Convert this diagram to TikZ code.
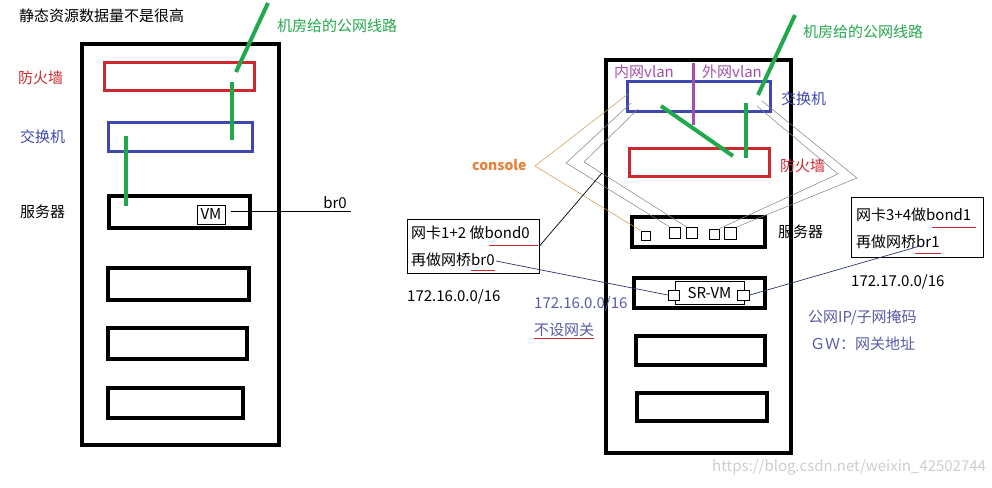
\documentclass[tikz,border=0pt]{standalone}
\usepackage{fontspec}
\setmainfont{Noto Sans CJK SC}
\usetikzlibrary{positioning}
\definecolor{fwred}{RGB}{204,40,46}
\definecolor{swblue}{RGB}{63,72,176}
\definecolor{linegreen}{RGB}{34,168,76}
\definecolor{vlanpurple}{RGB}{163,80,170}
\definecolor{conorange}{RGB}{232,128,56}
\definecolor{conline}{RGB}{204,150,72}
\definecolor{netblue}{RGB}{90,90,170}
\definecolor{wirenavy}{RGB}{44,54,104}
\definecolor{marktext}{RGB}{205,205,205}

\begin{document}
\begin{tikzpicture}[x=1pt, y=-1pt, every node/.style={font=\fontsize{15}{17}\selectfont, inner sep=0pt},
	sz/.style 2 args={minimum width=#1, minimum height=#2},
	rack/.style={draw, line width=4},
	fwbox/.style={draw=fwred, line width=3},
	swbox/.style={draw=swblue, line width=3},
	unit/.style={draw, line width=3.5},
	port/.style={draw, line width=0.8},
	notebox/.style={draw, line width=1},
	lbl/.style={anchor=west},
	wire/.style={linegreen, line width=4},
	thinwire/.style={line width=0.5}]
	\useasboundingbox (0,0) rectangle (992,487);

	\node[lbl] (title) at (19,16) {静态资源数据量不是很高};
	\node[rack, sz={197}{401}] (rackL) at (180.5,244.5) {};
	\node[fwbox, sz={150}{28}] (fwL) at (179.5,76.5) {};
	\node[swbox, sz={144}{29}] (swL) at (180.5,137) {};
	\node[unit, sz={141}{32}] (srvL) at (179.5,212) {};
	\node[unit, sz={141}{32}] (boxLa) at (178.5,284) {};
	\node[unit, sz={139}{31}] (boxLb) at (177.5,343.5) {};
	\node[unit, sz={135}{30}] (boxLc) at (175.5,403) {};
	\node[port, sz={28}{19}] (vm) at (211,214.5) {VM};
	\node[lbl, text=fwred] (fwLtxt) at (18,78) {防火墙};
	\node[lbl, text=swblue] (swLtxt) at (20,137) {交换机};
	\node[lbl] (srvLtxt) at (20,212) {服务器};
	\node[lbl, text=linegreen] (wanL) at (277,26) {机房给的公网线路};
	\node (brL) at (335,203) {br0};
	\coordinate (brLa) at (231,211);
	\coordinate (brLb) at (351,211);
	\draw[thinwire, line width=1] (brLa) -- (brLb);
	\coordinate (gLa) at (268,3);
	\coordinate (gLb) at (236,72);
	\coordinate (gLc) at (232,82);
	\coordinate (gLd) at (232,140);
	\coordinate (gLe) at (126,136);
	\coordinate (gLf) at (126,206);
	\draw[wire] (gLa) -- (gLb);
	\draw[wire] (gLc) -- (gLd);
	\draw[wire] (gLe) -- (gLf);

	\node[rack, sz={185}{393}] (rackR) at (698.5,256.5) {};
	\node[swbox, sz={143}{30}] (swR) at (699,96.5) {};
	\node[fwbox, sz={140}{28}] (fwR) at (699.5,162.5) {};
	\node[unit, sz={133}{30}] (srvR) at (698.5,232) {};
	\node[unit, sz={131}{30}] (srvm) at (699.5,293) {};
	\node[unit, sz={129}{29}] (boxRa) at (700.5,350.5) {};
	\node[unit, sz={130}{28}] (boxRb) at (702,407) {};
	\node[port, sz={69}{23}] (srvmin) at (709.5,292.5) {SR-VM};
	\node[port, fill=white, sz={11}{10}] (srpL) at (673.5,295) {};
	\node[port, fill=white, sz={12}{10}] (srpR) at (743.5,295) {};
	\node[port, sz={9}{9}] (nic0) at (645.5,235.5) {};
	\node[port, sz={11}{11}] (nic1) at (675,232.5) {};
	\node[port, sz={11}{11}] (nic2) at (692,232.5) {};
	\node[port, sz={10}{10}] (nic3) at (714,234) {};
	\node[port, sz={12}{12}] (nic4) at (730,233.5) {};
	\draw[vlanpurple, line width=3] (693,63) -- (693,125);
	\node[lbl, text=vlanpurple] (lan) at (614,72) {内网vlan};
	\node[lbl, text=vlanpurple] (wan) at (702,72) {外网vlan};
	\node[lbl, text=linegreen] (wanR) at (803,32) {机房给的公网线路};
	\node[lbl, text=swblue] (swRtxt) at (781,99) {交换机};
	\node[lbl, text=fwred] (fwRtxt) at (780,166) {防火墙};
	\node[lbl] (srvRtxt) at (778,232) {服务器};
	\coordinate (gRa) at (795,15);
	\coordinate (gRb) at (758,95);
	\coordinate (gRc) at (746,103);
	\coordinate (gRd) at (746,158);
	\coordinate (gRe) at (661,106);
	\coordinate (gRf) at (733,156);
	\draw[wire] (gRa) -- (gRb);
	\draw[wire] (gRc) -- (gRd);
	\draw[wire] (gRe) -- (gRf);

	\node[lbl, text=conorange, font=\fontsize{14}{16}\selectfont\bfseries] (console) at (472,165) {console};
	\coordinate (conA) at (628,94);
	\coordinate (conB) at (535,166);
	\draw[conline, thinwire] (conA) -- (conB) -- (nic0.north west);
	\coordinate (cgA) at (631,103);
	\coordinate (cgB) at (566,163);
	\coordinate (cgC) at (638,109);
	\coordinate (cgD) at (584,162);
	\draw[gray, thinwire] (cgA) -- (cgB) -- (nic1.north west);
	\draw[gray, thinwire] (cgC) -- (cgD) -- (nic2.north west);
	\coordinate (cgE) at (762,101);
	\coordinate (cgF) at (857,178);
	\coordinate (cgG) at (757,106);
	\coordinate (cgH) at (838,174);
	\draw[gray, thinwire] (cgE) -- (cgF) -- (nic4.north east);
	\draw[gray, thinwire] (cgG) -- (cgH) -- (nic3.north east);

	\node[notebox, sz={132}{54}] (noteL) at (473,246) {};
	\node[lbl] (noteLa) at (411,233) {网卡1+2 做bond0};
	\node[lbl] (noteLb) at (411,260) {再做网桥br0};
	\draw[fwred, thinwire, line width=0.8] (489,245) -- (538,245);
	\draw[fwred, thinwire, line width=0.8] (471,270) -- (495,270);
	\coordinate (br0end) at (496,261);
	\draw[wirenavy, thinwire, line width=0.7] (br0end) -- (srpL.west);
	\coordinate (noteLtip) at (602,173);
	\draw[thinwire, line width=0.7] (noteL.east) -- (noteLtip);
	\node[lbl] (netL) at (407,297) {172.16.0.0/16};
	\node[lbl, text=netblue] (netLb) at (534,304) {172.16.0.0/16};
	\node[lbl, text=netblue] (nogw) at (534,330) {不设网关};
	\draw[fwred, thinwire, line width=0.8] (534,338) -- (594,338);

	\node[notebox, sz={132}{60}] (noteR) at (917,227) {};
	\node[lbl] (noteRa) at (856,215) {网卡3+4做bond1};
	\node[lbl] (noteRb) at (856,242) {再做网桥br1};
	\draw[fwred, thinwire, line width=0.8] (932,227) -- (976,227);
	\draw[fwred, thinwire, line width=0.8] (915,253) -- (941,253);
	\coordinate (br1end) at (920,246);
	\draw[wirenavy, thinwire, line width=0.7] (br1end) -- (srpR.east);
	\node[lbl] (netR) at (851,282) {172.17.0.0/16};
	\node[lbl, text=netblue] (pubip) at (808,318) {公网IP/子网掩码};
	\node[lbl, text=netblue] (gw) at (810,344) {ＧＷ：网关地址};
	\node[lbl, text=marktext] (mark) at (712,467) {https://blog.csdn.net/weixin\_42502744};
\end{tikzpicture}
\end{document}
